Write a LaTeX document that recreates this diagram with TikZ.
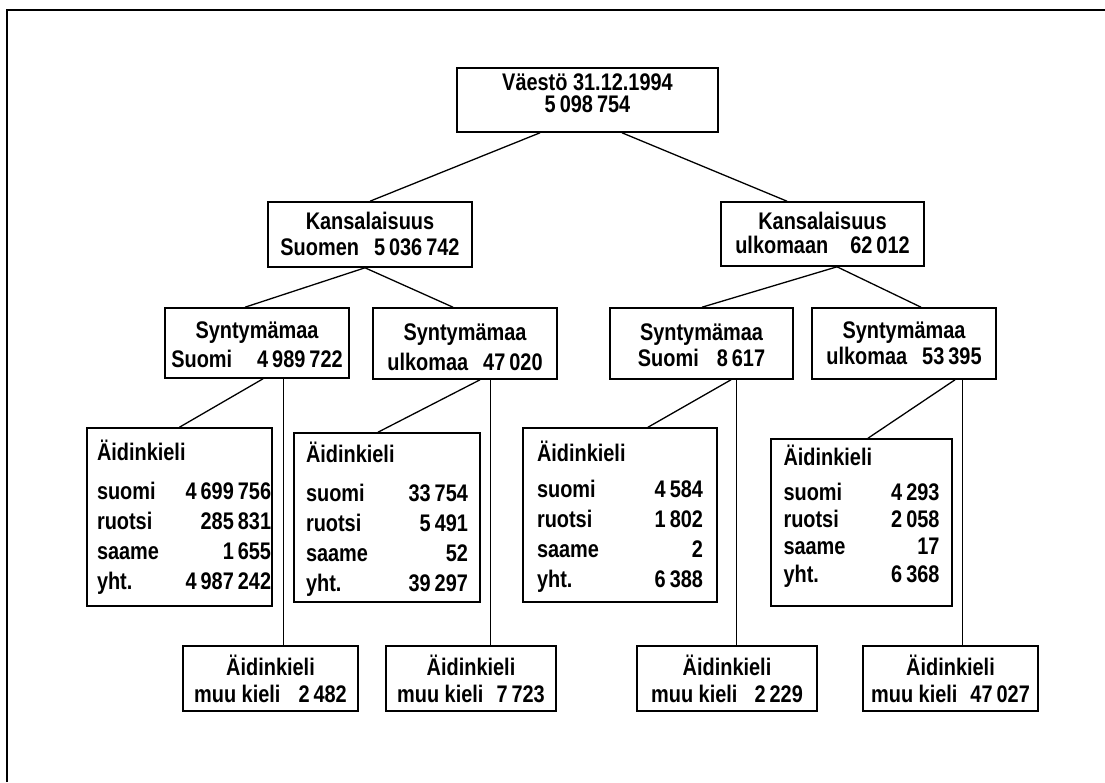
\documentclass[tikz,border=0pt]{standalone}
\usepackage{fontspec}
\newfontfamily\cf{Liberation Sans}[FakeStretch=0.83]
\newcommand{\grp}{\hspace{4pt}}
\newcommand{\twol}[4]{\parbox[b]{#1}{\centering\cf\bfseries\fontsize{24}{#2}\selectfont\lineskiplimit=-30pt\relax #3\\#4}}
\newcommand{\akt}[7]{{\cf\bfseries\fontsize{24}{#2}\selectfont\renewcommand{\arraystretch}{1}%
\begin{tabular*}{#1}[b]{@{}l@{\extracolsep{\fill}}r@{}}
Äidinkieli & \\[#3]
suomi & #4\\
ruotsi & #5\\
saame & #6\\
yht. & #7
\end{tabular*}}}
\begin{document}
\begin{tikzpicture}[x=1pt,y=-1pt,
  box/.style={draw, line width=1.6pt, inner sep=0pt},
  conn/.style={line width=1.3pt},
  vconn/.style={line width=1pt},
  frame/.style={line width=1.4pt}]
\useasboundingbox (0,0) rectangle (1105,782);
\draw[frame] (7,782) -- (7,10) -- (1105,10);
% level 0
\node[box, minimum width=261pt, text height=44pt, text depth=20pt] (top) at (587.5,100)
  {\twol{261pt}{22pt}{Väestö 31.12.1994}{5\grp098\grp754}};
% level 1
\node[box, minimum width=204pt, text height=53pt, text depth=12pt] (k1) at (370,234.5)
  {\twol{204pt}{26pt}{Kansalaisuus}{Suomen\hspace{15pt}5\grp036\grp742}};
\node[box, minimum width=203pt, text height=51pt, text depth=13pt] (k2) at (822.5,234)
  {\twol{203pt}{24pt}{Kansalaisuus}{ulkomaan\hspace{22pt}62\grp012}};
% level 2
\node[box, minimum width=184pt, text height=59pt, text depth=11pt] (s1) at (257,343)
  {\twol{184pt}{29pt}{Syntymämaa}{Suomi\hspace{25pt}4\grp989\grp722}};
\node[box, minimum width=184pt, text height=62pt, text depth=9pt] (s2) at (465,343.5)
  {\twol{184pt}{30pt}{Syntymämaa}{ulkomaa\hspace{15pt}47\grp020}};
\node[box, minimum width=183pt, text height=58pt, text depth=13pt] (s3) at (701.5,343.5)
  {\twol{183pt}{26pt}{Syntymämaa}{Suomi\hspace{18pt}8\grp617}};
\node[box, minimum width=184pt, text height=56pt, text depth=15pt] (s4) at (904,343.5)
  {\twol{184pt}{26pt}{Syntymämaa}{ulkomaa\hspace{15pt}53\grp395}};
% level 3: mother tongue tables
\node[box, minimum width=185pt, text height=161pt, text depth=17pt] (a1) at (179.5,517)
  {\akt{165pt}{30pt}{9pt}{4\grp699\grp756}{285\grp831}{1\grp655}{4\grp987\grp242}};
\node[box, minimum width=186pt, text height=158pt, text depth=11pt] (a2) at (387,517.5)
  {\akt{162pt}{29.7pt}{9.3pt}{33\grp754}{5\grp491}{52}{39\grp297}};
\node[box, minimum width=194pt, text height=159pt, text depth=15pt] (a3) at (620,515)
  {\akt{166pt}{29.7pt}{6.3pt}{4\grp584}{1\grp802}{2}{6\grp388}};
\node[box, minimum width=181pt, text height=143pt, text depth=24pt] (a4) at (861.5,522.5)
  {\akt{156pt}{27.3pt}{7.7pt}{4\grp293}{2\grp058}{17}{6\grp368}};
% level 4: other languages
\node[box, minimum width=175pt, text height=56pt, text depth=9pt] (m1) at (270.5,678.5)
  {\twol{175pt}{27pt}{Äidinkieli}{muu kieli\hspace{18pt}2\grp482}};
\node[box, minimum width=170pt, text height=56pt, text depth=9pt] (m2) at (471,678.5)
  {\twol{170pt}{27pt}{Äidinkieli}{muu kieli\hspace{13pt}7\grp723}};
\node[box, minimum width=180pt, text height=56pt, text depth=9pt] (m3) at (727,678.5)
  {\twol{180pt}{27pt}{Äidinkieli}{muu kieli\hspace{17pt}2\grp229}};
\node[box, minimum width=175pt, text height=56pt, text depth=9pt] (m4) at (950.5,678.5)
  {\twol{175pt}{27pt}{Äidinkieli}{muu kieli\hspace{13pt}47\grp027}};
% connectors
\draw[conn] ([xshift=-47.5pt]top.south) -- (k1.north);
\draw[conn] ([xshift=34.5pt]top.south) -- ([xshift=-35.5pt]k2.north);
\draw[conn] ([xshift=-5pt]k1.south) -- ([xshift=-12pt]s1.north);
\draw[conn] ([xshift=-5pt]k1.south) -- ([xshift=-12pt]s2.north);
\draw[conn] ([xshift=14.5pt]k2.south) -- ([xshift=0.5pt]s3.north);
\draw[conn] ([xshift=14.5pt]k2.south) -- ([xshift=17pt]s4.north);
\draw[conn] ([xshift=6pt]s1.south) -- (a1.north);
\draw[vconn] ([xshift=26pt]s1.south) -- ([xshift=12.5pt]m1.north);
\draw[conn] ([xshift=15pt]s2.south) -- ([xshift=-9pt]a2.north);
\draw[vconn] ([xshift=25pt]s2.south) -- ([xshift=19pt]m2.north);
\draw[conn] ([xshift=29.5pt]s3.south) -- ([xshift=28pt]a3.north);
\draw[vconn] ([xshift=34.5pt]s3.south) -- ([xshift=9pt]m3.north);
\draw[conn] ([xshift=51pt]s4.south) -- ([xshift=6.5pt]a4.north);
\draw[vconn] ([xshift=58pt]s4.south) -- ([xshift=11.5pt]m4.north);
\end{tikzpicture}
\end{document}
